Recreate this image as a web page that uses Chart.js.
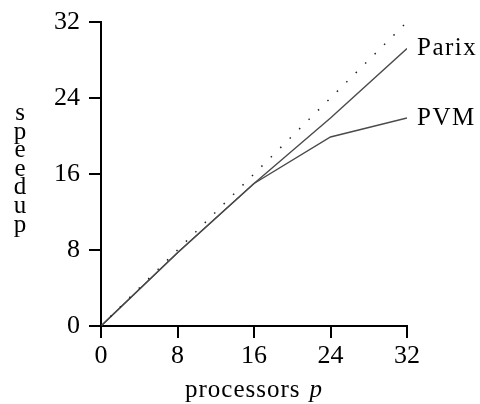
<!DOCTYPE html>
<html>
<head>
<meta charset="utf-8">
<script src="https://cdn.jsdelivr.net/npm/chart.js@4.4.1/dist/chart.umd.min.js"></script>
<style>
  html, body { margin: 0; padding: 0; background: #fff; }
  #wrap { width: 480px; height: 404px; position: relative; }
  .probe { font-family: "Liberation Serif"; position: absolute; left: -999px; }
</style>
</head>
<body>
<div id="wrap"><canvas id="speedupChart"></canvas></div>
<span class="probe">0 speedup <i>p</i></span>
<script>
// processors vs speedup
const procs = [0, 8, 16, 24, 32];
const parix = [0, 7.7, 15.0, 21.9, 29.2];
const pvm = [0, 7.7, 15.0, 19.9, 21.9];
const ideal = [0, 8, 16, 24, 32];
const tickValues = [0, 8, 16, 24, 32];
const seriesNames = ['Parix', 'PVM'];

const serif = '"Liberation Serif", "DejaVu Serif", serif';

function toPoints(ys) {
    return procs.map((p, i) => ({ x: p, y: ys[i] }));
}

// draws the stacked y title, the end-of-line names and the x title
const textPlugin = {
    id: 'texts',
    afterDraw(chart) {
        const ctx = chart.ctx;
        const xs = chart.scales.x, ys = chart.scales.y;
        ctx.save();
        ctx.fillStyle = '#000';
        ctx.textAlign = 'center';
        ctx.textBaseline = 'alphabetic';

        // "speedup" one letter per line
        ctx.font = '25px ' + serif;
        'speedup'.split('').forEach((ch, i) => {
            ctx.fillText(ch, 20, 120 + i * 18.6);
        });

        // series names at the end of each line
        ctx.font = '25px ' + serif;
        ctx.textAlign = 'left';
        ctx.textBaseline = 'middle';
        ctx.letterSpacing = '1.5px';
        const last = procs.length - 1;
        [parix, pvm].forEach((s, i) => {
            const px = xs.getPixelForValue(procs[last]) + 10;
            const py = ys.getPixelForValue(s[last]);
            ctx.fillText(seriesNames[i], px, py);
        });

        // x title, with an italic p
        ctx.textBaseline = 'alphabetic';
        ctx.letterSpacing = '1px';
        const word = 'processors';
        const w1 = ctx.measureText(word).width;
        ctx.font = 'italic 25px ' + serif;
        const w2 = ctx.measureText('p').width;
        const gap = 9;
        const cx = (chart.chartArea.left + chart.chartArea.right) / 2;
        const start = cx - (w1 + gap + w2) / 2;
        ctx.font = '25px ' + serif;
        ctx.fillText(word, start, 397);
        ctx.font = 'italic 25px ' + serif;
        ctx.fillText('p', start + w1 + gap, 397);
        ctx.restore();
    }
};

const axisStyle = {
    grid: {
        drawOnChartArea: false,
        drawTicks: true,
        tickLength: 12,
        color: '#000',
        lineWidth: 2
    },
    border: { display: true, color: '#000', width: 2 }
};

function drawChart() {
    new Chart(document.getElementById('speedupChart'), {
        type: 'line',
        data: {
            datasets: [
                {
                    label: 'ideal',
                    data: toPoints(ideal),
                    borderColor: '#222',
                    borderWidth: 1.5,
                    borderDash: [1.5, 11.8],
                    pointRadius: 0,
                    fill: false
                },
                {
                    label: seriesNames[0],
                    data: toPoints(parix),
                    borderColor: '#4a4a4a',
                    borderWidth: 1.4,
                    pointRadius: 0,
                    fill: false
                },
                {
                    label: seriesNames[1],
                    data: toPoints(pvm),
                    borderColor: '#4a4a4a',
                    borderWidth: 1.4,
                    pointRadius: 0,
                    fill: false
                }
            ]
        },
        options: {
            responsive: true,
            maintainAspectRatio: false,
            animation: false,
            layout: { padding: { top: 19, right: 73, left: 0, bottom: 0 } },
            plugins: {
                legend: { display: false },
                tooltip: { enabled: false }
            },
            scales: {
                x: {
                    type: 'linear',
                    min: 0,
                    max: 32,
                    ...axisStyle,
                    afterBuildTicks: (scale) => {
                        scale.ticks = tickValues.map(v => ({ value: v }));
                    },
                    afterFit: (scale) => { scale.height = 78; },
                    ticks: {
                        color: '#000',
                        font: { family: serif, size: 26, lineHeight: 1 },
                        padding: 5,
                        maxRotation: 0
                    }
                },
                y: {
                    type: 'linear',
                    min: 0,
                    max: 32,
                    ...axisStyle,
                    afterBuildTicks: (scale) => {
                        scale.ticks = tickValues.map(v => ({ value: v }));
                    },
                    afterFit: (scale) => { scale.width = 101; },
                    ticks: {
                        color: '#000',
                        font: { family: serif, size: 26, lineHeight: 1 },
                        padding: 9
                    }
                }
            }
        },
        plugins: [textPlugin]
    });
}

document.fonts.load('26px "Liberation Serif"').then(drawChart, drawChart);
</script>
</body>
</html>
